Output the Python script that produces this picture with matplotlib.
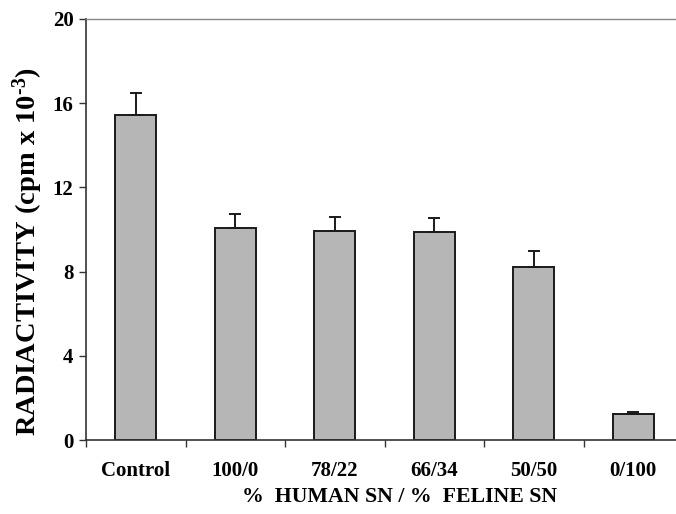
import matplotlib
matplotlib.use("Agg")
import matplotlib.pyplot as plt
import numpy as np

categories = ["Control", "100/0", "78/22", "66/34", "50/50", "0/100"]
values = [15.44, 10.06, 9.91, 9.87, 8.22, 1.24]
errors = [1.06, 0.70, 0.70, 0.70, 0.76, 0.10]
yticks = [0, 4, 8, 12, 16, 20]

plt.rcParams['font.family'] = ['Liberation Serif', 'DejaVu Serif']
plt.rcParams['font.weight'] = 'bold'
plt.rcParams['mathtext.fontset'] = 'custom'
plt.rcParams['mathtext.rm'] = 'Liberation Serif:bold'
plt.rcParams['mathtext.default'] = 'rm'

fig = plt.figure(figsize=(6.76, 5.14), dpi=100)
ax = fig.add_axes([86/676, 1-440/514, (683-86)/676, (440-19)/514])

x = np.arange(len(categories))
ax.bar(x, values, width=0.41, color='#b6b6b6', edgecolor='#1a1a1a', linewidth=1.4, zorder=2)
ax.errorbar(x, values, yerr=[np.zeros(len(values)), errors], fmt='none',
            ecolor='#1a1a1a', elinewidth=1.4, capsize=4, capthick=1.4, zorder=3)

ax.set_xlim(-0.5, len(categories) - 0.5)
ax.set_ylim(0, 20)
ax.set_yticks(yticks)
ax.set_yticklabels([str(t) for t in yticks], fontsize=15, fontweight='bold')
ax.set_xticks(np.arange(len(categories) + 1) - 0.5)
ax.set_xticklabels([])
ax.set_xticks(x, minor=True)
ax.set_xticklabels(categories, minor=True, fontsize=15, fontweight='bold')
ax.tick_params(axis='x', which='major', direction='out', length=5, width=1, color='#333333')
ax.tick_params(axis='x', which='minor', length=0, pad=15)
ax.tick_params(axis='y', direction='out', length=5, width=1, color='#333333', pad=4)

ax.spines['right'].set_visible(False)
ax.spines['top'].set_color('#888888')
ax.spines['top'].set_linewidth(1.0)
ax.spines['left'].set_color('#333333')
ax.spines['bottom'].set_color('#333333')
ax.spines['left'].set_linewidth(1.2)
ax.spines['bottom'].set_linewidth(1.2)

fig.text(28/676, 1-252/514, r"RADIACTIVITY (cpm x 10$^{\text{-}3}$)", rotation=90,
         ha='center', va='center', fontsize=20.5, fontweight='bold')
fig.text(400/676, 1-497/514, "%  HUMAN SN / %  FELINE SN", ha='center', va='center',
         fontsize=15.7, fontweight='bold')

fig.savefig("out.png", dpi=100)
